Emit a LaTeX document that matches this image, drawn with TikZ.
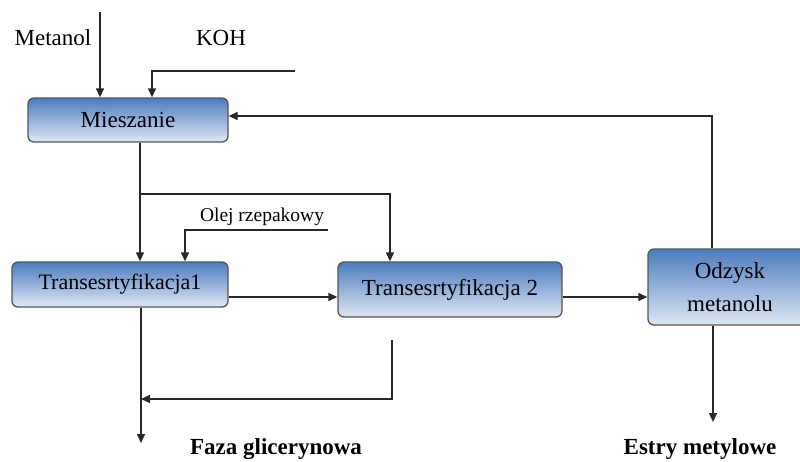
\documentclass[tikz,border=0pt]{standalone}
\usepackage{fontspec}
\setmainfont{Liberation Serif}
\usetikzlibrary{arrows.meta,calc}
\definecolor{boxtop}{RGB}{76,124,190}
\definecolor{boxbot}{RGB}{222,232,244}
\definecolor{boxedge}{RGB}{85,85,85}
\definecolor{linec}{RGB}{40,40,40}
\tikzset{
  procbox/.style={draw=boxedge, line width=1.3pt, rounded corners=6pt,
    top color=boxtop, bottom color=boxbot, inner sep=0pt, align=center,
    font=\fontsize{23}{33}\selectfont},
  flow/.style={draw=linec, line width=1.3pt, -{Triangle[length=9pt,width=8pt]}},
  plain/.style={draw=linec, line width=1.3pt},
  lbl/.style={inner sep=0pt, font=\fontsize{23}{27}\selectfont},
  blbl/.style={inner sep=0pt, anchor=base, font=\fontsize{23}{27}\selectfont\bfseries}
}
\begin{document}
\begin{tikzpicture}[x=1pt,y=1pt]
\clip (0,0) rectangle (800,-461);
\useasboundingbox (0,0) rectangle (800,-461);

% boxes
\node[procbox, minimum width=200pt, minimum height=44pt] (mix) at (128,-120) {Mieszanie};
\node[procbox, minimum width=216pt, minimum height=45pt, font=\fontsize{22}{26}\selectfont] (t1) at (120,-284.5) {Transesrtyfikacja1};
\node[procbox, minimum width=224pt, minimum height=55pt] (t2) at (450,-289.5) {\raisebox{4pt}{Transesrtyfikacja 2}};
\node[procbox, minimum width=164pt, minimum height=76pt] (od) at (730,-287) {Odzysk\\metanolu};

% labels
\node[lbl] (metanol) at (53,-38) {Metanol};
\node[lbl] (koh) at (221,-38) {KOH};
\node[lbl, font=\fontsize{19.5}{23}\selectfont] (olej) at (262,-217) {Olej rzepakowy};
\node[blbl] (faza) at (276,-454) {Faza glicerynowa};
\node[blbl] (estry) at (700,-454) {Estry metylowe};

% free ends
\coordinate (mt) at (100,-12);
\coordinate (kohs) at (295,-71);
\coordinate (kohc) at (152,-71);
\coordinate (rc) at (712,-116);
\coordinate (br) at (140,-194);
\coordinate (brc) at (390,-194);
\coordinate (olejs) at (328,-230);
\coordinate (olejc) at (185,-230);
\coordinate (ret) at (392,-340);
\coordinate (retc) at (392,-399);
\coordinate (glend) at (141,-443);
\coordinate (esend) at (713,-422);

% connectors
\draw[flow] (mt) -- (mt |- mix.north);
\draw[flow] (kohs) -- (kohc) -- (kohc |- mix.north);
\draw[flow] (rc |- od.north) -- (rc) -- (rc -| mix.east);
\draw[flow] (br |- mix.south) -- (br |- t1.north);
\draw[flow] (br) -- (brc) -- (brc |- t2.north);
\draw[flow] (olejs) -- (olejc) -- (olejc |- t1.north);
\draw[flow] (t1.east |- 0,-297) -- (t2.west |- 0,-297);
\draw[flow] (t2.east |- 0,-297) -- (od.west |- 0,-297);
\draw[flow] (glend |- t1.south) -- (glend);
\draw[flow] (ret) -- (retc) -- (retc -| glend);
\draw[flow] (esend |- od.south) -- (esend);
\end{tikzpicture}
\end{document}
